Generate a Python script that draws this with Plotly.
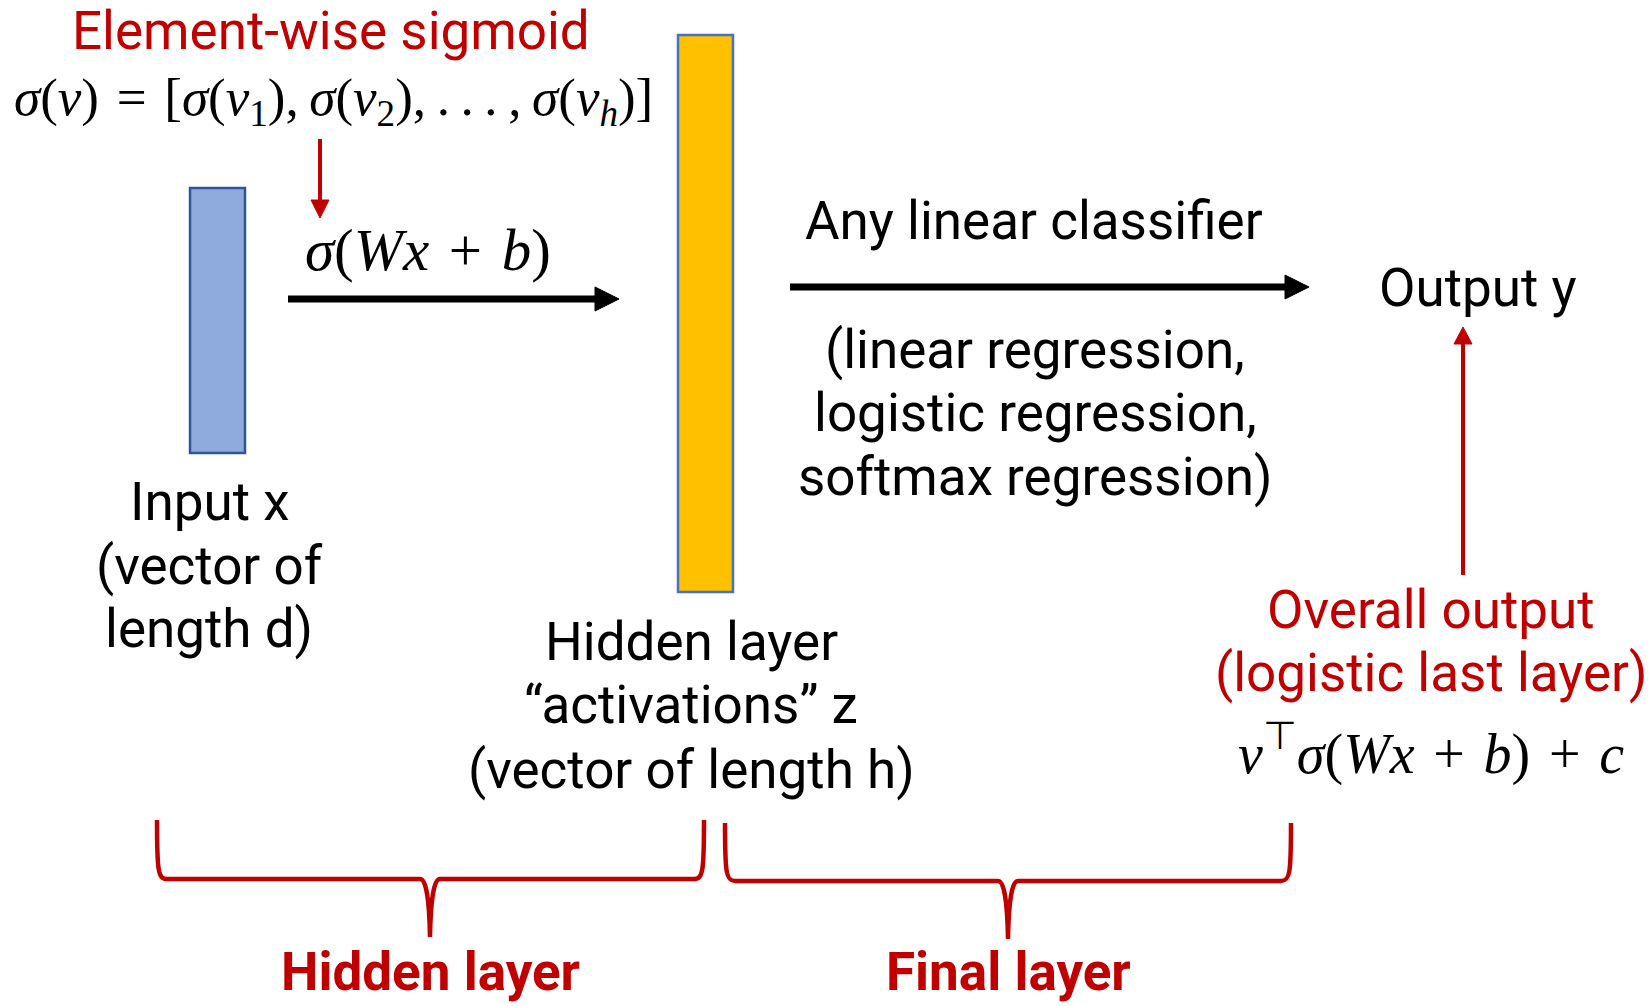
import plotly.graph_objects as go

W, H = 1649, 1006
RED = "#C00000"
BLACK = "#000000"
SANS = "Roboto"
SERIF = "Liberation Serif"

# ---- content -------------------------------------------------------------
input_lines = ["Input x", "(vector of", "length d)"]
hidden_lines = ["Hidden layer", "\u201cactivations\u201d z", "(vector of length h)"]
classifier_title = "Any linear classifier"
classifier_lines = ["(linear regression,", "logistic regression,", "softmax regression)"]
output_label = "Output y"
sigmoid_title = "Element-wise sigmoid"
overall_lines = ["Overall output", "(logistic last layer)"]
group_labels = ["Hidden layer", "Final layer"]

SP = "\u2004"   # three-per-em space, for TeX-like operator spacing
sigmoid_formula = (f"<i>\u03c3</i>(<i>v</i>){SP}={SP}[<i>\u03c3</i>(<i>v</i><sub>1</sub>),\u2009"
                   f"<i>\u03c3</i>(<i>v</i><sub>2</sub>),\u2009.\u2009.\u2009.\u2009,\u2009<i>\u03c3</i>(<i>v<sub>h</sub></i>)]")
layer_formula = f"<i>\u03c3</i>(<i>Wx</i>{SP}+{SP}<i>b</i>)"
output_formula = f"<i>v</i><sup>\u22a4</sup><i>\u03c3</i>(<i>Wx</i>{SP}+{SP}<i>b</i>){SP}+{SP}<i>c</i>"

# ---- layout geometry (pixel space) --------------------------------------
input_box = dict(x0=190, x1=245, y0=188, y1=453, fill="#8FAADC", line="#2F5597")
hidden_box = dict(x0=678, x1=733, y0=35, y1=592, fill="#FFC000", line="#4472C4")

shapes = []
annotations = []


def rect(b):
    shapes.append(dict(type="rect", xref="x", yref="y", x0=b["x0"], x1=b["x1"],
                       y0=b["y0"], y1=b["y1"], fillcolor=b["fill"],
                       line=dict(color=b["line"], width=2.5), layer="above"))


def arrow_h(x0, x1, y, color, width, head_len, head_half):
    shapes.append(dict(type="line", xref="x", yref="y", x0=x0, x1=x1 - head_len + 2,
                       y0=y, y1=y, line=dict(color=color, width=width)))
    shapes.append(dict(type="path", xref="x", yref="y",
                       path=f"M {x1 - head_len},{y - head_half} L {x1},{y} L {x1 - head_len},{y + head_half} Z",
                       fillcolor=color, line=dict(color=color, width=1)))


def arrow_v(x, y0, y1, color, width, head_len, head_half):
    d = 1 if y1 > y0 else -1
    shapes.append(dict(type="line", xref="x", yref="y", x0=x, x1=x,
                       y0=y0, y1=y1 - d * (head_len - 2), line=dict(color=color, width=width)))
    shapes.append(dict(type="path", xref="x", yref="y",
                       path=f"M {x - head_half},{y1 - d * head_len} L {x},{y1} L {x + head_half},{y1 - d * head_len} Z",
                       fillcolor=color, line=dict(color=color, width=1)))


def brace(x0, x1, xc, top, yh, tip, color):
    p = (f"M {x0},{top} C {x0},{yh - 8} {x0 + 1},{yh} {x0 + 10},{yh} "
         f"L {xc - 10},{yh} Q {xc - 1},{yh} {xc},{tip} "
         f"M {x1},{top} C {x1},{yh - 8} {x1 - 1},{yh} {x1 - 10},{yh} "
         f"L {xc + 10},{yh} Q {xc + 1},{yh} {xc},{tip}")
    shapes.append(dict(type="path", xref="x", yref="y", path=p,
                       line=dict(color=color, width=4.5)))


def text(x, y, s, size, color=BLACK, family=SANS):
    annotations.append(dict(x=x, y=y, xref="x", yref="y", text=s, showarrow=False,
                            xanchor="center", yanchor="middle",
                            font=dict(family=family, size=size, color=color)))


rect(input_box)
rect(hidden_box)

arrow_h(288, 619, 299, BLACK, 7, 24, 12)
arrow_h(790, 1309, 287, BLACK, 7, 24, 12)
arrow_v(320, 139, 218, RED, 4, 18, 9)
arrow_v(1463, 575, 327, RED, 4, 17, 9)

brace(157, 704, 430, 820, 879, 937, RED)
brace(725, 1291, 1008, 823, 881, 939, RED)

TS = 53
text(331, 31, sigmoid_title, TS, RED)
text(333, 101, sigmoid_formula, 53, BLACK, SERIF)
text(428, 250, layer_formula, 59, BLACK, SERIF)

for s, y in zip(input_lines, [502, 566, 629]):
    text(209, y, s, TS)
for s, y in zip(hidden_lines, [642, 705, 770]):
    text(691, y, s, TS)

text(1034, 221, classifier_title, TS)
for s, y in zip(classifier_lines, [350, 413, 477]):
    text(1035, y, s, TS)
text(1478, 288, output_label, TS)

for s, y in zip(overall_lines, [610, 673]):
    text(1431, y, s, TS, RED)
text(1431, 750, output_formula, 56, BLACK, SERIF)

for s, x in zip(group_labels, [430, 1008]):
    text(x, 972, f"<b>{s}</b>", 53, RED)

fig = go.Figure()
fig.update_layout(
    width=W, height=H, margin=dict(l=0, r=0, t=0, b=0),
    paper_bgcolor="white", plot_bgcolor="white", showlegend=False,
    xaxis=dict(range=[0, W], visible=False, fixedrange=True),
    yaxis=dict(range=[H, 0], visible=False, fixedrange=True),
    shapes=shapes, annotations=annotations,
)
fig.write_html("out.html", config={"displayModeBar": False},
               post_script="document.body.style.margin='0';document.body.style.overflow='hidden';")
